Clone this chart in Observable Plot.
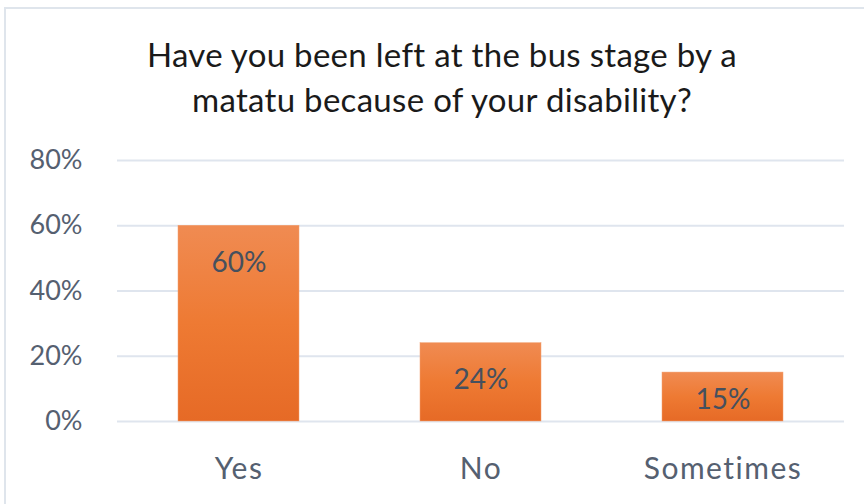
<!DOCTYPE html>
<html><head><meta charset="utf-8">
<script src="https://cdn.jsdelivr.net/npm/d3@7"></script>
<script src="https://cdn.jsdelivr.net/npm/@observablehq/plot@0.6"></script>
<style>
html,body{margin:0;padding:0;background:#fff;overflow:hidden;}
#wrap{position:relative;width:864px;height:504px;}
#frame{position:absolute;left:4px;top:7px;width:900px;height:520px;border:2px solid #dfe5ec;box-sizing:border-box;}
#title{position:absolute;left:0;top:0;width:864px;height:140px;}
#title div{position:absolute;left:0;width:884px;text-align:center;font-family:Lato,sans-serif;font-size:33px;color:#1a1a1a;letter-spacing:0.3px;}
#chart{position:absolute;left:0;top:140px;}
</style></head>
<body>
<div id="wrap"><div id="frame"></div>
<div id="title"><div style="top:34px">Have you been left at the bus stage by a</div><div style="top:79px">matatu because of your disability?</div></div>
<div id="chart"></div></div>
<script>
const categories = ["Yes", "No", "Sometimes"];
const values = [0.60, 0.24, 0.15];
const labels = ["60%", "24%", "15%"];
const yTicks = [0, 0.2, 0.4, 0.6, 0.8];

const data = categories.map((c, i) => ({category: c, value: values[i], label: labels[i]}));

const plot = Plot.plot({
  width: 864,
  height: 364,
  marginLeft: 117,
  marginRight: 20,
  marginTop: 20,
  marginBottom: 83,
  style: {fontFamily: "Lato, sans-serif", fontSize: "27px", color: "#556070", background: "transparent"},
  x: {domain: categories, paddingInner: 0.5, paddingOuter: 0.25, label: null, tickSize: 0, tickPadding: 36},
  y: {domain: [0, 0.8], ticks: yTicks, tickFormat: d => Math.round(d * 100) + "%", label: null, tickSize: 0, tickPadding: 35},
  marks: [
    Plot.ruleY(yTicks, {stroke: "#dfe5ee", strokeWidth: 2}),
    Plot.barY(data, {x: "category", y: "value", fill: "url(#barGrad)", stroke: "#f2a070", strokeWidth: 0.5}),
    Plot.text(data, {x: "category", y: d => Math.max(d.value / 2 - 0.01, d.value - 0.113), text: "label", fill: "#46505e", fontSize: 28})
  ]
});

const svgNS = "http://www.w3.org/2000/svg";
const defs = document.createElementNS(svgNS, "defs");
defs.innerHTML = '<linearGradient id="barGrad" x1="0" y1="0" x2="0" y2="1"><stop offset="0" stop-color="#f08b52"/><stop offset="0.5" stop-color="#ee7a33"/><stop offset="1" stop-color="#e66a26"/></linearGradient>';
plot.insertBefore(defs, plot.firstChild);
plot.querySelectorAll('[aria-label="y-axis tick label"] text').forEach(t => t.setAttribute("fill", "#556070"));
plot.querySelectorAll('[aria-label="x-axis tick label"]').forEach(g => { g.setAttribute("font-size", "30"); g.style.letterSpacing = "1.5px"; });
plot.querySelectorAll('[aria-label="x-axis tick label"] text').forEach(t => t.setAttribute("fill", "#556070"));
document.getElementById("chart").appendChild(plot);
</script>
</body></html>
